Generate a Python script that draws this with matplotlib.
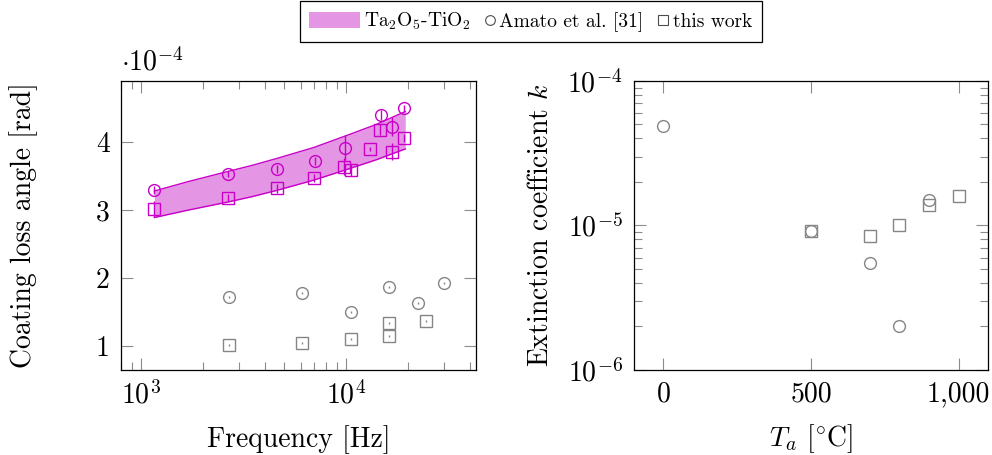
import numpy as np
import matplotlib
matplotlib.use('Agg')
import matplotlib.pyplot as plt
from matplotlib.patches import Patch
from matplotlib.lines import Line2D
from matplotlib.legend_handler import HandlerBase
from matplotlib.ticker import LogLocator, NullFormatter, FixedLocator

plt.rcParams['font.family'] = 'serif'
plt.rcParams['font.serif'] = ['cmr10', 'DejaVu Serif']
plt.rcParams['mathtext.fontset'] = 'cm'
plt.rcParams['axes.formatter.use_mathtext'] = True

MAG = '#C800C8'
FILL = '#E496E4'
GRAY = '#858585'
FS = 20

# ---- left panel: coating loss angle (units of 1e-4 rad) ----
band_f = [1160, 1700, 2660, 3500, 4590, 6930, 9890, 14000, 19400]
band_lo = [2.89, 3.00, 3.12, 3.20, 3.29, 3.44, 3.59, 3.74, 3.90]
band_hi = [3.28, 3.42, 3.57, 3.66, 3.76, 3.92, 4.09, 4.26, 4.45]

amato_tt_f = [1160, 2650, 4620, 7030, 9890, 14700, 16800, 19200]
amato_tt_phi = [3.30, 3.53, 3.61, 3.72, 3.92, 4.40, 4.23, 4.50]
amato_tt_err = [0.06, 0.04, 0.06, 0.06, 0.18, 0.07, 0.14, 0.05]

work_tt_f = [1160, 2650, 4590, 7000, 9800, 10570, 13060, 14650, 16740, 19170]
work_tt_phi = [3.02, 3.18, 3.32, 3.47, 3.64, 3.59, 3.90, 4.18, 3.86, 4.06]
work_tt_err = [0.12, 0.05, 0.07, 0.06, 0.12, 0.09, 0.03, 0.08, 0.13, 0.06]

amato_gr_f = [2680, 6100, 10600, 16100, 22500, 29900]
amato_gr_phi = [1.72, 1.78, 1.50, 1.87, 1.63, 1.92]

work_gr_f = [2690, 6120, 10600, 16100, 16100, 24400]
work_gr_phi = [1.01, 1.04, 1.10, 1.34, 1.15, 1.37]

# ---- right panel: extinction coefficient ----
amato_T = [0, 500, 700, 800, 900]
amato_k = [4.9e-5, 9.1e-6, 5.5e-6, 2.0e-6, 1.5e-5]
work_T = [500, 700, 800, 900, 1000]
work_k = [9.1e-6, 8.4e-6, 1.0e-5, 1.39e-5, 1.61e-5]


class MarkerRight(HandlerBase):
    # put the marker at the right end of the handle box, next to the text
    def create_artists(self, legend, orig_handle, xdescent, ydescent,
                       width, height, fontsize, trans):
        ln = Line2D([-xdescent + width - 0.3 * fontsize], [-ydescent + height / 2],
                    ls='none', marker=orig_handle.get_marker(),
                    ms=orig_handle.get_markersize(), mfc='none',
                    mec=orig_handle.get_markeredgecolor(),
                    mew=orig_handle.get_markeredgewidth())
        ln.set_transform(trans)
        return [ln]


fig = plt.figure(figsize=(9.92, 4.55), dpi=100)
ax1 = fig.add_axes([0.122, 0.187, 0.358, 0.635])
ax2 = fig.add_axes([0.639, 0.187, 0.357, 0.635])

for ax in (ax1, ax2):
    ax.tick_params(which='both', direction='in', top=True, right=True,
                   color='0.55', labelsize=FS, width=0.8)
    ax.tick_params(which='major', length=8.5, pad=8)
    ax.tick_params(which='minor', length=5.5)
    for s in ax.spines.values():
        s.set_linewidth(0.9)

# left
ax1.fill_between(band_f, band_lo, band_hi, color=FILL, lw=0)
ax1.plot(band_f, band_lo, color=MAG, lw=1.0)
ax1.plot(band_f, band_hi, color=MAG, lw=1.0)
ax1.errorbar(amato_tt_f, amato_tt_phi, yerr=amato_tt_err, fmt='o', ms=8.5,
             mfc='none', mec=MAG, mew=1.0, ecolor=MAG, elinewidth=1.0)
ax1.errorbar(work_tt_f, work_tt_phi, yerr=work_tt_err, fmt='s', ms=8.5,
             mfc='none', mec=MAG, mew=1.0, ecolor=MAG, elinewidth=1.0)
ax1.errorbar(amato_gr_f, amato_gr_phi, yerr=0.015, fmt='o', ms=8.5,
             mfc='none', mec=GRAY, mew=1.0, ecolor=GRAY, elinewidth=1.0)
ax1.errorbar(work_gr_f, work_gr_phi, yerr=0.015, fmt='s', ms=8.5,
             mfc='none', mec=GRAY, mew=1.0, ecolor=GRAY, elinewidth=1.0)
ax1.set_xscale('log')
ax1.set_xlim(798, 43000)
ax1.set_ylim(0.647, 4.9)
ax1.set_yticks([1, 2, 3, 4])
ax1.set_yticklabels(['1', '2', '3', '4'])
ax1.xaxis.set_major_locator(LogLocator(base=10, numticks=10))
ax1.xaxis.set_minor_locator(LogLocator(base=10, subs=np.arange(2, 10), numticks=10))
ax1.xaxis.set_minor_formatter(NullFormatter())
ax1.set_xlabel('Frequency [Hz]', fontsize=FS, labelpad=11)
ax1.set_ylabel('Coating loss angle [rad]', fontsize=FS, labelpad=42)
ax1.text(0.0, 1.015, r'$\cdot 10^{-4}$', transform=ax1.transAxes,
         fontsize=FS, ha='left', va='bottom')

# right
ax2.plot(amato_T, amato_k, 'o', ms=8.5, mfc='none', mec=GRAY, mew=1.0)
ax2.plot(work_T, work_k, 's', ms=8.5, mfc='none', mec=GRAY, mew=1.0)
ax2.set_yscale('log')
ax2.set_ylim(1e-6, 1e-4)
ax2.set_xlim(-100, 1100)
ax2.xaxis.set_major_locator(FixedLocator([0, 500, 1000]))
ax2.set_xticklabels(['0', '500', '1,000'])
ax2.yaxis.set_minor_formatter(NullFormatter())
ax2.set_xlabel(r'$T_a$ [$^{\circ}$C]', fontsize=FS, labelpad=11)
ax2.set_ylabel(r'Extinction coefficient $k$', fontsize=FS, labelpad=10)

circ = Line2D([], [], ls='none', marker='o', ms=7, mfc='none', mec='0.3', mew=0.8)
sq = Line2D([], [], ls='none', marker='s', ms=7, mfc='none', mec='0.3', mew=0.8)
handles = [Patch(facecolor=FILL, edgecolor='none'), circ, sq]
labels = [r'Ta$_2$O$_5$-TiO$_2$', 'Amato et al. [31]', 'this work']
leg = fig.legend(handles, labels, loc='center', bbox_to_anchor=(0.535, 0.953),
                 ncol=3, fontsize=14, frameon=True, fancybox=False,
                 handlelength=2.6, handleheight=0.9, handletextpad=0.2,
                 columnspacing=-1.3, borderpad=0.5, borderaxespad=0.3,
                 edgecolor='black', framealpha=1,
                 handler_map={circ: MarkerRight(), sq: MarkerRight()})
leg.get_frame().set_linewidth(0.9)

fig.savefig('out.png', dpi=100)
